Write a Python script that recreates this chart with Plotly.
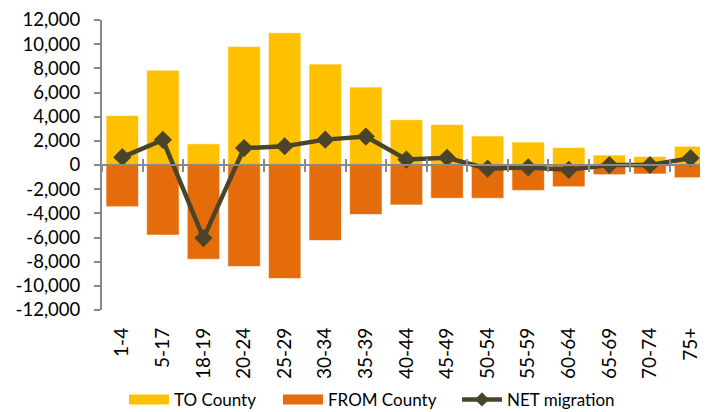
import plotly.graph_objects as go

categories = ["1-4", "5-17", "18-19", "20-24", "25-29", "30-34", "35-39", "40-44",
              "45-49", "50-54", "55-59", "60-64", "65-69", "70-74", "75+"]
to_county = [4100, 7850, 1750, 9800, 10950, 8350, 6450, 3750, 3350, 2400, 1900, 1450, 820, 710, 1550]
from_county = [-3450, -5800, -7800, -8400, -9400, -6250, -4100, -3300, -2750, -2750, -2100, -1800, -800, -740, -1050]
net_migration = [650, 2080, -6050, 1400, 1550, 2100, 2350, 450, 600, -300, -200, -400, 0, 0, 570]
y_tickvals = [12000, 10000, 8000, 6000, 4000, 2000, 0, -2000, -4000, -6000, -8000, -10000, -12000]
y_ticktext = ["12,000", "10,000", "8,000", "6,000", "4,000", "2,000", "0",
              "-2,000", "-4,000", "-6,000", "-8,000", "-10,000", "-12,000"]

C_TO = "#FFC000"
C_FROM = "#E46C0A"
C_NET = "#4A452A"
C_AX = "#898989"
FONT = "Lato"
FS = 19
YFS = 18.5
LFS = 17

fig = go.Figure()
fig.add_trace(go.Bar(x=categories, y=to_county, name="TO County", marker_color=C_TO,
                     marker_line=dict(color="rgba(255,255,255,0.6)", width=1), showlegend=False))
fig.add_trace(go.Bar(x=categories, y=from_county, name="FROM County", marker_color=C_FROM,
                     marker_line=dict(color="rgba(255,255,255,0.6)", width=1), showlegend=False))
fig.add_trace(go.Scatter(x=categories, y=net_migration, name="NET migration", mode="lines+markers",
                         line=dict(color=C_NET, width=4.5),
                         marker=dict(symbol="diamond", size=14, color=C_NET), showlegend=False))

# legend entries (no data)
fig.add_trace(go.Scatter(x=[None], y=[None], name="TO County", mode="lines",
                         line=dict(color=C_TO, width=11), xaxis="x2", legend="legend"))
fig.add_trace(go.Scatter(x=[None], y=[None], name="FROM County", mode="lines",
                         line=dict(color=C_FROM, width=11), xaxis="x2", legend="legend2"))
fig.add_trace(go.Scatter(x=[None], y=[None], name="NET migration", mode="lines+markers",
                         line=dict(color=C_NET, width=4.5),
                         marker=dict(symbol="diamond", size=11, color=C_NET), xaxis="x3",
                         legend="legend3"))

xr = [-0.5, 14.43]
boundaries = [i + 0.5 for i in range(-1, 15)]

leg_common = dict(orientation="h", xanchor="left", y=-0.31, yanchor="middle",
                  itemwidth=40, font=dict(family=FONT, size=LFS), bgcolor="rgba(0,0,0,0)")

fig.update_layout(
    width=700, height=404,
    margin=dict(l=94, r=0, t=12, b=102, autoexpand=False),
    paper_bgcolor="white", plot_bgcolor="white",
    barmode="relative", bargap=0.2,
    font=dict(family=FONT, size=FS, color="#000000"),
    xaxis=dict(type="category", range=xr, showline=False, showgrid=False, zeroline=False,
               ticks="", tickangle=-90, ticklabelstandoff=13, automargin=False,
               ticklabeloverflow="allow", tickfont=dict(family=FONT, size=FS)),
    xaxis2=dict(overlaying="x", anchor="free", position=0.5, range=xr, type="linear",
                showline=True, linecolor=C_AX, linewidth=2, showgrid=False, zeroline=False,
                tickmode="array", tickvals=boundaries, ticks="outside", ticklen=6,
                tickwidth=1.5, tickcolor=C_AX, showticklabels=False, automargin=False),
    xaxis3=dict(overlaying="x", anchor="free", position=0.5, range=xr, type="linear",
                showline=False, showgrid=False, zeroline=False,
                tickmode="array", tickvals=boundaries, ticks="inside", ticklen=6,
                tickwidth=1.5, tickcolor=C_AX, showticklabels=False, automargin=False),
    yaxis=dict(range=[-12000, 12000], showgrid=False, zeroline=False,
               showline=True, linecolor=C_AX, linewidth=2, automargin=False,
               tickmode="array", tickvals=y_tickvals, ticktext=y_ticktext,
               ticks="outside", ticklen=6, tickwidth=1.5, tickcolor=C_AX,
               ticklabelstandoff=10, ticklabeloverflow="allow",
               tickfont=dict(family=FONT, size=YFS)),
    legend=dict(x=0.0363, **leg_common),
    legend2=dict(x=0.2904, **leg_common),
    legend3=dict(x=0.5858, **leg_common),
)

fig.write_html("out.html")
